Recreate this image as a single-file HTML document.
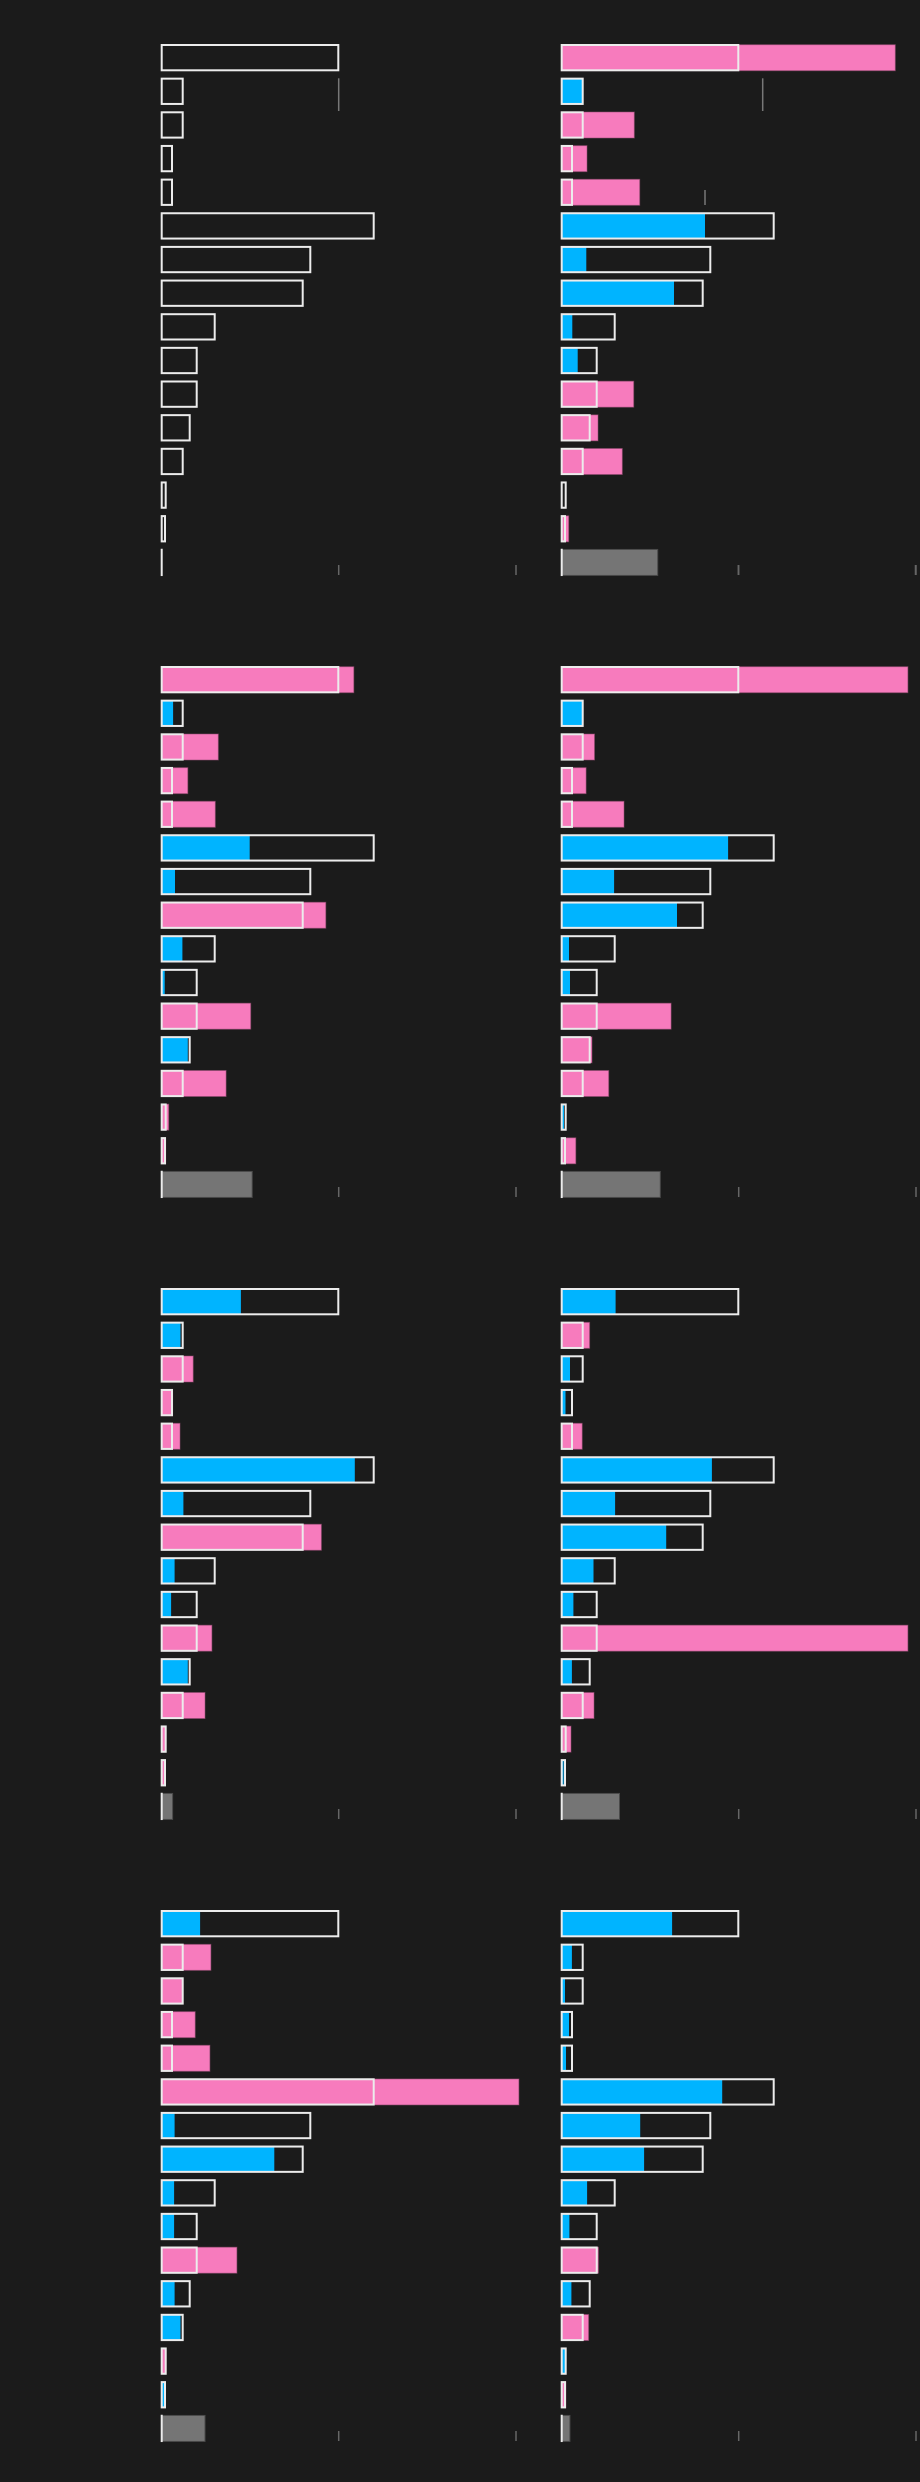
<!DOCTYPE html>
<html>
<head>
<meta charset="utf-8">
<style>
html,body{margin:0;padding:0;background:#1b1b1b;}
svg{display:block;}
.p{fill:#f77bbd;stroke:#8f4a70;stroke-width:1;stroke-opacity:0.55;}
.b{fill:#00b4ff;}
.g{fill:#757575;stroke:#4a4a4a;stroke-width:1;}
.o{fill:none;stroke:#ececec;stroke-width:2;}
.t{stroke:#666;stroke-width:1.5;}
.m{stroke:#777;stroke-width:1.5;}
</style>
</head>
<body>
<svg width="920" height="2482" viewBox="0 0 920 2482" xmlns="http://www.w3.org/2000/svg">
<rect x="0" y="0" width="920" height="2482" fill="#1b1b1b"/>
<defs>
<g id="ol">
<rect class="o" x="161.7" y="45" width="176.6" height="25.3"/>
<rect class="o" x="161.7" y="78.65" width="21" height="25.3"/>
<rect class="o" x="161.7" y="112.3" width="21" height="25.3"/>
<rect class="o" x="161.7" y="145.95" width="10.3" height="25.3"/>
<rect class="o" x="161.7" y="179.6" width="10.3" height="25.3"/>
<rect class="o" x="161.7" y="213.25" width="212" height="25.3"/>
<rect class="o" x="161.7" y="246.9" width="148.6" height="25.3"/>
<rect class="o" x="161.7" y="280.55" width="141" height="25.3"/>
<rect class="o" x="161.7" y="314.2" width="53" height="25.3"/>
<rect class="o" x="161.7" y="347.85" width="35" height="25.3"/>
<rect class="o" x="161.7" y="381.5" width="35" height="25.3"/>
<rect class="o" x="161.7" y="415.15" width="28" height="25.3"/>
<rect class="o" x="161.7" y="448.8" width="21" height="25.3"/>
<rect class="o" x="161.7" y="482.45" width="4" height="25.3"/>
<rect class="o" x="161.7" y="516.1" width="3.3" height="25.3"/>
<rect x="160.7" y="548.75" width="2" height="27.3" fill="#ececec"/>
<line class="t" x1="338.7" y1="565" x2="338.7" y2="575"/>
<line class="t" x1="516" y1="565" x2="516" y2="575"/>
</g>
</defs>

<!-- Panel 1 -->
<g transform="translate(0,0)">
  <g>
    <use href="#ol"/>
    <line class="m" x1="338.7" y1="78.3" x2="338.7" y2="111"/>
  </g>
  <g transform="translate(400,0)">
    <rect class="p" x="161.7" y="44.7" width="333.6" height="26"/>
    <rect class="b" x="161.7" y="78.35" width="20.6" height="26"/>
    <rect class="p" x="161.7" y="112" width="72.6" height="26"/>
    <rect class="p" x="161.7" y="145.65" width="25.3" height="26"/>
    <rect class="p" x="161.7" y="179.3" width="78" height="26"/>
    <rect class="b" x="161.7" y="212.95" width="143.3" height="26"/>
    <rect class="b" x="161.7" y="246.6" width="24.6" height="26"/>
    <rect class="b" x="161.7" y="280.25" width="112.3" height="26"/>
    <rect class="b" x="161.7" y="313.9" width="10.6" height="26"/>
    <rect class="b" x="161.7" y="347.55" width="16" height="26"/>
    <rect class="p" x="161.7" y="381.2" width="72" height="26"/>
    <rect class="p" x="161.7" y="414.85" width="36.3" height="26"/>
    <rect class="p" x="161.7" y="448.5" width="60.6" height="26"/>
    <rect class="p" x="161.7" y="515.8" width="7" height="26"/>
    <rect class="g" x="161.7" y="549.45" width="96" height="26"/>
    <use href="#ol"/>
    <line class="m" x1="362.7" y1="78.3" x2="362.7" y2="111"/>
    <line class="m" x1="305" y1="190" x2="305" y2="205"/>
    <line class="t" x1="338.3" y1="565" x2="338.3" y2="575"/>
    <line class="t" x1="515.5" y1="565" x2="515.5" y2="575"/>
  </g>
</g>

<!-- Panel 2 -->
<g transform="translate(0,622)">
  <g>
    <rect class="p" x="161.7" y="44.7" width="192.1" height="26"/>
    <rect class="b" x="161.7" y="78.35" width="11.4" height="26"/>
    <rect class="p" x="161.7" y="112" width="56.6" height="26"/>
    <rect class="p" x="161.7" y="145.65" width="26.1" height="26"/>
    <rect class="p" x="161.7" y="179.3" width="53.6" height="26"/>
    <rect class="b" x="161.7" y="212.95" width="88" height="26"/>
    <rect class="b" x="161.7" y="246.6" width="13.3" height="26"/>
    <rect class="p" x="161.7" y="280.25" width="164.1" height="26"/>
    <rect class="b" x="161.7" y="313.9" width="20.7" height="26"/>
    <rect class="b" x="161.7" y="347.55" width="3" height="26"/>
    <rect class="p" x="161.7" y="381.2" width="89" height="26"/>
    <rect class="b" x="161.7" y="414.85" width="26.1" height="26"/>
    <rect class="p" x="161.7" y="448.5" width="64.4" height="26"/>
    <rect class="p" x="161.7" y="482.15" width="7" height="26"/>
    <rect class="p" x="161.7" y="515.8" width="4" height="26"/>
    <rect class="g" x="161.7" y="549.45" width="90.5" height="26"/>
    <use href="#ol"/>
  </g>
  <g transform="translate(400,0)">
    <rect class="p" x="161.7" y="44.7" width="346.2" height="26"/>
    <rect class="b" x="161.7" y="78.35" width="20.5" height="26"/>
    <rect class="p" x="161.7" y="112" width="32.8" height="26"/>
    <rect class="p" x="161.7" y="145.65" width="24.4" height="26"/>
    <rect class="p" x="161.7" y="179.3" width="62.3" height="26"/>
    <rect class="b" x="161.7" y="212.95" width="166.4" height="26"/>
    <rect class="b" x="161.7" y="246.6" width="52.4" height="26"/>
    <rect class="b" x="161.7" y="280.25" width="115.3" height="26"/>
    <rect class="b" x="161.7" y="313.9" width="7.3" height="26"/>
    <rect class="b" x="161.7" y="347.55" width="8.3" height="26"/>
    <rect class="p" x="161.7" y="381.2" width="109.4" height="26"/>
    <rect class="p" x="161.7" y="414.85" width="30.3" height="26"/>
    <rect class="p" x="161.7" y="448.5" width="47" height="26"/>
    <rect class="b" x="161.7" y="482.15" width="2.3" height="26"/>
    <rect class="p" x="161.7" y="515.8" width="14.1" height="26"/>
    <rect class="g" x="161.7" y="549.45" width="98.6" height="26"/>
    <use href="#ol"/>
  </g>
</g>

<!-- Panel 3 -->
<g transform="translate(0,1244)">
  <g>
    <rect class="b" x="161.7" y="44.7" width="79.2" height="26"/>
    <rect class="b" x="161.7" y="78.35" width="18.8" height="26"/>
    <rect class="p" x="161.7" y="112" width="31.5" height="26"/>
    <rect class="p" x="161.7" y="145.65" width="10.9" height="26"/>
    <rect class="p" x="161.7" y="179.3" width="18.3" height="26"/>
    <rect class="b" x="161.7" y="212.95" width="193.1" height="26"/>
    <rect class="b" x="161.7" y="246.6" width="21.7" height="26"/>
    <rect class="p" x="161.7" y="280.25" width="159.7" height="26"/>
    <rect class="b" x="161.7" y="313.9" width="12.9" height="26"/>
    <rect class="b" x="161.7" y="347.55" width="9.4" height="26"/>
    <rect class="p" x="161.7" y="381.2" width="50.2" height="26"/>
    <rect class="b" x="161.7" y="414.85" width="26.1" height="26"/>
    <rect class="p" x="161.7" y="448.5" width="43.3" height="26"/>
    <rect class="p" x="161.7" y="482.15" width="4" height="26"/>
    <rect class="p" x="161.7" y="515.8" width="3.5" height="26"/>
    <rect class="g" x="161.7" y="549.45" width="10.9" height="26"/>
    <use href="#ol"/>
  </g>
  <g transform="translate(400,0)">
    <rect class="b" x="161.7" y="44.7" width="53.9" height="26"/>
    <rect class="p" x="161.7" y="78.35" width="27.9" height="26"/>
    <rect class="b" x="161.7" y="112" width="8.3" height="26"/>
    <rect class="b" x="161.7" y="145.65" width="3.8" height="26"/>
    <rect class="p" x="161.7" y="179.3" width="20.5" height="26"/>
    <rect class="b" x="161.7" y="212.95" width="150.2" height="26"/>
    <rect class="b" x="161.7" y="246.6" width="53.4" height="26"/>
    <rect class="b" x="161.7" y="280.25" width="104.5" height="26"/>
    <rect class="b" x="161.7" y="313.9" width="31.8" height="26"/>
    <rect class="b" x="161.7" y="347.55" width="11.7" height="26"/>
    <rect class="p" x="161.7" y="381.2" width="346.2" height="26"/>
    <rect class="b" x="161.7" y="414.85" width="10.2" height="26"/>
    <rect class="p" x="161.7" y="448.5" width="32.3" height="26"/>
    <rect class="p" x="161.7" y="482.15" width="9.3" height="26"/>
    <rect class="b" x="161.7" y="515.8" width="1.9" height="26"/>
    <rect class="g" x="161.7" y="549.45" width="57.8" height="26"/>
    <use href="#ol"/>
  </g>
</g>

<!-- Panel 4 -->
<g transform="translate(0,1866)">
  <g>
    <rect class="b" x="161.7" y="44.7" width="38.4" height="26"/>
    <rect class="p" x="161.7" y="78.35" width="49.2" height="26"/>
    <rect class="p" x="161.7" y="112" width="20.7" height="26"/>
    <rect class="p" x="161.7" y="145.65" width="33.5" height="26"/>
    <rect class="p" x="161.7" y="179.3" width="48.2" height="26"/>
    <rect class="p" x="161.7" y="212.95" width="357.2" height="26"/>
    <rect class="b" x="161.7" y="246.6" width="12.9" height="26"/>
    <rect class="b" x="161.7" y="280.25" width="112.6" height="26"/>
    <rect class="b" x="161.7" y="313.9" width="12.4" height="26"/>
    <rect class="b" x="161.7" y="347.55" width="12.4" height="26"/>
    <rect class="p" x="161.7" y="381.2" width="75.2" height="26"/>
    <rect class="b" x="161.7" y="414.85" width="12.9" height="26"/>
    <rect class="b" x="161.7" y="448.5" width="18.8" height="26"/>
    <rect class="p" x="161.7" y="482.15" width="4.5" height="26"/>
    <rect class="b" x="161.7" y="515.8" width="3" height="26"/>
    <rect class="g" x="161.7" y="549.45" width="43.3" height="26"/>
    <use href="#ol"/>
  </g>
  <g transform="translate(400,0)">
    <rect class="b" x="161.7" y="44.7" width="110.4" height="26"/>
    <rect class="b" x="161.7" y="78.35" width="10.2" height="26"/>
    <rect class="b" x="161.7" y="112" width="3.3" height="26"/>
    <rect class="b" x="161.7" y="145.65" width="7.3" height="26"/>
    <rect class="b" x="161.7" y="179.3" width="4.3" height="26"/>
    <rect class="b" x="161.7" y="212.95" width="160.5" height="26"/>
    <rect class="b" x="161.7" y="246.6" width="78.5" height="26"/>
    <rect class="b" x="161.7" y="280.25" width="82.4" height="26"/>
    <rect class="b" x="161.7" y="313.9" width="25.4" height="26"/>
    <rect class="b" x="161.7" y="347.55" width="7.7" height="26"/>
    <rect class="p" x="161.7" y="381.2" width="36.7" height="26"/>
    <rect class="b" x="161.7" y="414.85" width="9.7" height="26"/>
    <rect class="p" x="161.7" y="448.5" width="26.9" height="26"/>
    <rect class="b" x="161.7" y="482.15" width="3.3" height="26"/>
    <rect class="p" x="161.7" y="515.8" width="4.3" height="26"/>
    <rect class="g" x="161.7" y="549.45" width="8.2" height="26"/>
    <use href="#ol"/>
  </g>
</g>
</svg>
</body>
</html>
